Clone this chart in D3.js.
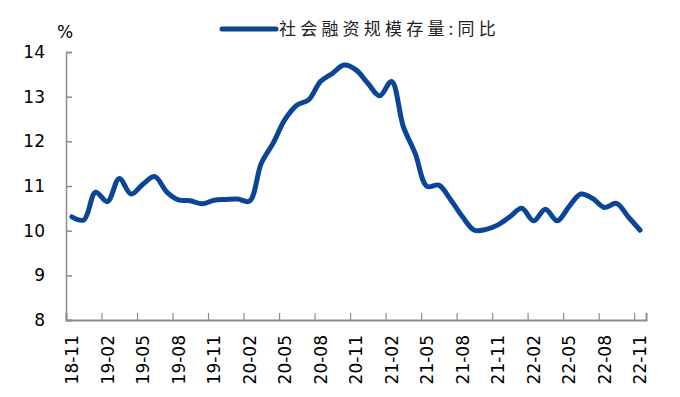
<!DOCTYPE html>
<html>
<head>
<meta charset="utf-8">
<script src="https://cdn.jsdelivr.net/npm/d3@7"></script>
<style>
  body { margin: 0; background: #fff; }
  svg { display: block; }
  .tick text { font-family: "DejaVu Sans", sans-serif; font-size: 17px; fill: #000; }
</style>
</head>
<body>
<svg id="chart" width="680" height="397"></svg>
<script>
// monthly categories, 2018-11 .. 2022-11
const months = [
  '18-11', '18-12', '19-01', '19-02', '19-03', '19-04', '19-05', '19-06', '19-07', '19-08',
  '19-09', '19-10', '19-11', '19-12', '20-01', '20-02', '20-03', '20-04', '20-05', '20-06',
  '20-07', '20-08', '20-09', '20-10', '20-11', '20-12', '21-01', '21-02', '21-03', '21-04',
  '21-05', '21-06', '21-07', '21-08', '21-09', '21-10', '21-11', '21-12', '22-01', '22-02',
  '22-03', '22-04', '22-05', '22-06', '22-07', '22-08', '22-09', '22-10', '22-11'
];

// 社会融资规模存量:同比 (%)
const tsfGrowth = [
  10.31, 10.24, 10.86, 10.65, 11.17, 10.82, 11.04, 11.21, 10.87, 10.69,
  10.67, 10.60, 10.68, 10.70, 10.71, 10.66, 11.51, 11.96, 12.49, 12.81,
  12.93, 13.34, 13.52, 13.71, 13.60, 13.30, 13.02, 13.34, 12.33, 11.73,
  10.99, 11.02, 10.69, 10.31, 10.01, 10.03, 10.13, 10.31, 10.50, 10.22,
  10.48, 10.22, 10.54, 10.82, 10.72, 10.52, 10.61, 10.31, 10.01
];

const yTicks = [8, 9, 10, 11, 12, 13, 14];
const seriesName = '社会融资规模存量:同比';

const margin = { top: 52, right: 34, bottom: 77, left: 66 };
const width = 680, height = 397;
const plotW = width - margin.left - margin.right;
const plotH = height - margin.top - margin.bottom;
const axisColor = '#8c8c8c';
const lineColor = '#0b4596';

const svg = d3.select('#chart');
const g = svg.append('g').attr('transform', `translate(${margin.left},${margin.top})`);

const x = d3.scaleBand().domain(months).range([0, plotW]).padding(0);
const xIdx = d3.scaleLinear().domain([0, months.length]).range([0, plotW]);
const y = d3.scaleLinear().domain([8, 14]).range([plotH, 0]);

// y axis
const yAxis = g.append('g')
  .call(d3.axisLeft(y).tickValues(yTicks).tickSize(-6).tickPadding(21).tickFormat(d3.format('d')));
yAxis.select('.domain').attr('stroke', axisColor).attr('stroke-width', 1.5);
yAxis.selectAll('.tick line').attr('stroke', axisColor).attr('stroke-width', 1.5);

// x axis tick marks, between categories every 3 months
const xMarks = g.append('g').attr('transform', `translate(0,${plotH})`)
  .call(d3.axisBottom(xIdx).tickValues(d3.range(3, months.length, 3)).tickSize(-7).tickFormat(''));
xMarks.select('.domain').attr('stroke', axisColor).attr('stroke-width', 2);
xMarks.selectAll('.tick line').attr('stroke', axisColor).attr('stroke-width', 1.2);

// x axis labels, on category centres
const xLabels = g.append('g').attr('transform', `translate(0,${plotH})`)
  .call(d3.axisBottom(x).tickValues(months.filter((d, i) => i % 3 === 0)).tickSize(0));
xLabels.select('.domain').remove();
xLabels.selectAll('text')
  .attr('transform', 'rotate(-90)')
  .attr('text-anchor', 'end')
  .attr('x', -15)
  .attr('y', 0)
  .attr('dy', '0.36em');

// line
const line = d3.line()
  .x((d, i) => x(months[i]) + x.bandwidth() / 2)
  .y(d => y(d))
  .curve(d3.curveCatmullRom.alpha(0.5));

g.append('path')
  .datum(tsfGrowth)
  .attr('fill', 'none')
  .attr('stroke', lineColor)
  .attr('stroke-width', 5)
  .attr('stroke-linecap', 'round')
  .attr('stroke-linejoin', 'round')
  .attr('d', line);

// unit label
svg.append('text')
  .attr('x', 57).attr('y', 38)
  .style('font-family', '"DejaVu Sans", sans-serif')
  .style('font-size', '17px')
  .text('%');

// legend
const legend = svg.append('g').attr('transform', 'translate(222,29)');
legend.append('line')
  .attr('x1', 0).attr('x2', 54).attr('y1', 0).attr('y2', 0)
  .attr('stroke', lineColor).attr('stroke-width', 5).attr('stroke-linecap', 'round');
legend.append('text')
  .attr('x', 57).attr('y', 6)
  .style('font-family', '"Noto Sans CJK SC", sans-serif')
  .style('font-size', '17px')
  .style('letter-spacing', '4.2px')
  .attr('fill', '#222')
  .text(seriesName);
</script>
</body>
</html>
